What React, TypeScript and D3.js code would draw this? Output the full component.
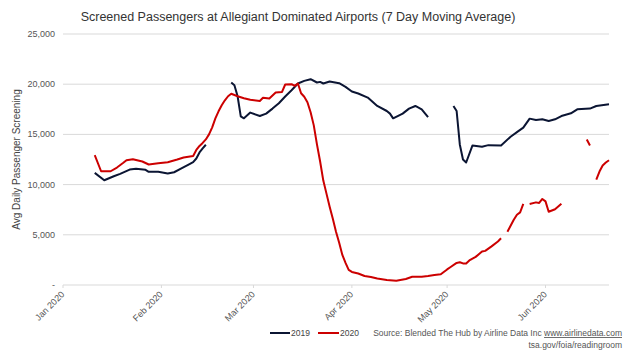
import * as d3 from "d3"

// 7 day moving average, dates on the 2020 calendar (null = gap in the data)
const series2019: [string, number | null][] = [
  ["2020-01-11", 11170], ["2020-01-14", 10430], ["2020-01-17", 10830], ["2020-01-19", 11070],
  ["2020-01-22", 11500], ["2020-01-24", 11570], ["2020-01-27", 11470], ["2020-01-28", 11270],
  ["2020-01-31", 11270], ["2020-02-03", 11100], ["2020-02-05", 11230], ["2020-02-07", 11570],
  ["2020-02-10", 12070], ["2020-02-11", 12230], ["2020-02-12", 12600], ["2020-02-13", 13200],
  ["2020-02-14", 13600], ["2020-02-15", 13970], ["2020-02-16", null],
  ["2020-02-23", 20170], ["2020-02-24", 19900], ["2020-02-25", 18800], ["2020-02-26", 16800],
  ["2020-02-27", 16600], ["2020-02-29", 17170], ["2020-03-03", 16830], ["2020-03-05", 17070],
  ["2020-03-07", 17570], ["2020-03-09", 18100], ["2020-03-11", 18770], ["2020-03-13", 19400],
  ["2020-03-15", 20070], ["2020-03-17", 20330], ["2020-03-19", 20500], ["2020-03-21", 20170],
  ["2020-03-22", 20230], ["2020-03-23", 20070], ["2020-03-25", 20270], ["2020-03-28", 20100],
  ["2020-03-30", 19730], ["2020-04-01", 19270], ["2020-04-03", 19070], ["2020-04-06", 18670],
  ["2020-04-09", 17830], ["2020-04-12", 17330], ["2020-04-13", 17070], ["2020-04-14", 16600],
  ["2020-04-17", 17070], ["2020-04-19", 17570], ["2020-04-21", 17830], ["2020-04-23", 17500],
  ["2020-04-25", 16730], ["2020-04-26", null],
  ["2020-05-03", 17830], ["2020-05-04", 17330], ["2020-05-05", 14000], ["2020-05-06", 12500],
  ["2020-05-07", 12200], ["2020-05-09", 13900], ["2020-05-12", 13770], ["2020-05-14", 13930],
  ["2020-05-18", 13900], ["2020-05-21", 14770], ["2020-05-23", 15230], ["2020-05-25", 15670],
  ["2020-05-27", 16570], ["2020-05-29", 16430], ["2020-05-31", 16500], ["2020-06-02", 16330],
  ["2020-06-04", 16500], ["2020-06-06", 16830], ["2020-06-09", 17100], ["2020-06-11", 17500],
  ["2020-06-15", 17570], ["2020-06-17", 17830], ["2020-06-21", 18000],
]

const series2020: [string, number | null][] = [
  ["2020-01-11", 12930], ["2020-01-13", 11330], ["2020-01-16", 11330], ["2020-01-18", 11700],
  ["2020-01-20", 12170], ["2020-01-21", 12430], ["2020-01-23", 12530], ["2020-01-26", 12300],
  ["2020-01-28", 12000], ["2020-01-31", 12130], ["2020-02-03", 12230], ["2020-02-06", 12500],
  ["2020-02-08", 12700], ["2020-02-11", 12850], ["2020-02-12", 13450], ["2020-02-13", 13850],
  ["2020-02-14", 14150], ["2020-02-15", 14500], ["2020-02-16", 15000], ["2020-02-17", 15700],
  ["2020-02-18", 16600], ["2020-02-19", 17300], ["2020-02-20", 17900], ["2020-02-21", 18400],
  ["2020-02-22", 18800], ["2020-02-23", 19050], ["2020-02-25", 18800], ["2020-02-27", 18600],
  ["2020-02-29", 18450], ["2020-03-03", 18330], ["2020-03-04", 18650], ["2020-03-06", 18570],
  ["2020-03-08", 19170], ["2020-03-10", 19230], ["2020-03-11", 19970], ["2020-03-13", 20000],
  ["2020-03-14", 19830], ["2020-03-15", 20070], ["2020-03-16", 19100], ["2020-03-17", 18750],
  ["2020-03-18", 18200], ["2020-03-19", 17200], ["2020-03-20", 15900], ["2020-03-21", 14000],
  ["2020-03-22", 12300], ["2020-03-23", 10400], ["2020-03-24", 9100], ["2020-03-25", 7800],
  ["2020-03-26", 6600], ["2020-03-27", 5300], ["2020-03-28", 4200], ["2020-03-29", 3000],
  ["2020-03-30", 2200], ["2020-03-31", 1500], ["2020-04-01", 1300], ["2020-04-03", 1150],
  ["2020-04-05", 900], ["2020-04-07", 800], ["2020-04-09", 650], ["2020-04-12", 500],
  ["2020-04-15", 430], ["2020-04-18", 600], ["2020-04-20", 820], ["2020-04-23", 820],
  ["2020-04-25", 900], ["2020-04-27", 1000], ["2020-04-29", 1070], ["2020-05-01", 1550],
  ["2020-05-02", 1770], ["2020-05-04", 2200], ["2020-05-05", 2270], ["2020-05-06", 2150],
  ["2020-05-07", 2150], ["2020-05-08", 2450], ["2020-05-10", 2800], ["2020-05-12", 3330],
  ["2020-05-13", 3400], ["2020-05-15", 3850], ["2020-05-17", 4330], ["2020-05-18", 4650],
  ["2020-05-19", null],
  ["2020-05-20", 5300], ["2020-05-22", 6500], ["2020-05-23", 7000], ["2020-05-24", 7230],
  ["2020-05-25", 8070], ["2020-05-26", null],
  ["2020-05-27", 8070], ["2020-05-29", 8230], ["2020-05-30", 8170], ["2020-05-31", 8570],
  ["2020-06-01", 8330], ["2020-06-02", 7300], ["2020-06-04", 7550], ["2020-06-06", 8100],
  ["2020-06-07", null],
  ["2020-06-14", 14500], ["2020-06-15", 13900], ["2020-06-16", null],
  ["2020-06-17", 10500], ["2020-06-18", 11300], ["2020-06-19", 11900], ["2020-06-20", 12200],
  ["2020-06-21", 12430],
]

const yTicks = [0, 5000, 10000, 15000, 20000, 25000]
const monthTicks = ["2020-01-01", "2020-02-01", "2020-03-01", "2020-04-01", "2020-05-01", "2020-06-01"]
const monthLabels = ["Jan 2020", "Feb 2020", "Mar 2020", "Apr 2020", "May 2020", "Jun 2020"]

const W = 625
const H = 351
const margin = { top: 34, right: 16, bottom: 66, left: 63 }
const font = "Arial, 'Liberation Sans', sans-serif"
const COLOR_2019 = "#0b1533"
const COLOR_2020 = "#cc0000"

const parse = d3.utcParse("%Y-%m-%d")

export default function App() {
  const x = d3
    .scaleUtc()
    .domain([parse("2020-01-01")!, parse("2020-06-21")!])
    .range([margin.left, W - margin.right])
  const y = d3.scaleLinear().domain([0, 25000]).range([H - margin.bottom, margin.top])

  const line = d3
    .line<[string, number | null]>()
    .defined((d) => d[1] !== null)
    .x((d) => x(parse(d[0])!))
    .y((d) => y(d[1] as number))

  const fmt = (v: number) => (v === 0 ? "-" : d3.format(",")(v))
  const baseY = y(0)

  return (
    <div style={{ position: "fixed", left: 0, top: 0 }}>
      <svg width={W} height={H} style={{ display: "block", background: "#fff" }}>
        <text x={298} y={21} textAnchor="middle" fontFamily={font} fontSize={12.5} fill="#333">
          Screened Passengers at Allegiant Dominated Airports (7 Day Moving Average)
        </text>

        {/* gridlines + y labels */}
        {yTicks.map((t) => (
          <g key={t}>
            <line x1={margin.left} x2={W - margin.right} y1={y(t)} y2={y(t)} stroke="#d9d9d9" strokeWidth={1} />
            <text x={55} y={y(t) + 3} textAnchor="end" fontFamily={font} fontSize={9} fill="#555">
              {fmt(t)}
            </text>
          </g>
        ))}

        <text
          transform={`translate(20,${(margin.top + baseY) / 2}) rotate(-90)`}
          textAnchor="middle"
          fontFamily={font}
          fontSize={10}
          fill="#444"
        >
          Avg Daily Passenger Screening
        </text>

        {/* x axis ticks and labels */}
        {monthTicks.map((m, i) => {
          const px = x(parse(m)!)
          return (
            <g key={m}>
              <line x1={px} x2={px} y1={baseY} y2={baseY + 3} stroke="#d9d9d9" />
              <text
                transform={`translate(${px + 2},${baseY + 10}) rotate(-45)`}
                textAnchor="end"
                fontFamily={font}
                fontSize={9}
                fill="#555"
              >
                {monthLabels[i]}
              </text>
            </g>
          )
        })}

        <path d={line(series2019) || ""} fill="none" stroke={COLOR_2019} strokeWidth={2} strokeLinejoin="round" />
        <path d={line(series2020) || ""} fill="none" stroke={COLOR_2020} strokeWidth={2} strokeLinejoin="round" />

        {/* legend */}
        <line x1={270} x2={290} y1={333} y2={333} stroke={COLOR_2019} strokeWidth={2} />
        <text x={291} y={336} fontFamily={font} fontSize={8.5} fill="#444">2019</text>
        <line x1={318} x2={339} y1={333} y2={333} stroke={COLOR_2020} strokeWidth={2} />
        <text x={340} y={336} fontFamily={font} fontSize={8.5} fill="#444">2020</text>

        <text x={622} y={336} textAnchor="end" fontFamily={font} fontSize={8.5} fill="#555">
          Source: Blended The Hub by Airline Data Inc <tspan textDecoration="underline">www.airlinedata.com</tspan>
        </text>
        <text x={622} y={348} textAnchor="end" fontFamily={font} fontSize={8.5} fill="#555">
          tsa.gov/foia/readingroom
        </text>
      </svg>
    </div>
  )
}
